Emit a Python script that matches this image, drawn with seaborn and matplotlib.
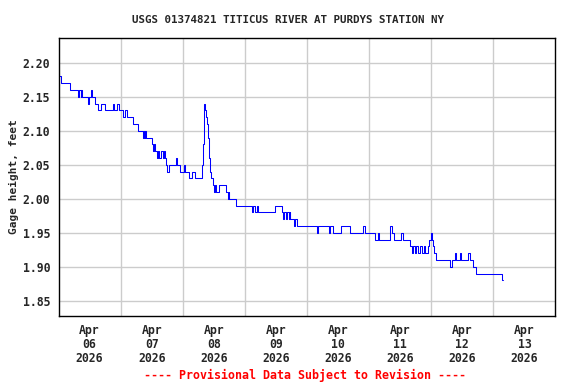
import numpy as np
import pandas as pd
import matplotlib
matplotlib.use("Agg")
import matplotlib.pyplot as plt
import seaborn as sns


# hours after 2026-04-06 00:00 where the gage reading changes, and the new reading
hours = [0, 1.0, 4.25, 7.5, 8.0, 8.5, 8.75, 9.25, 11.25, 11.75, 12.5, 13.0, 14.25,
         15.25, 16.5, 18.0, 21.0, 21.5, 22.75, 23.5, 25.0, 25.5, 26.5, 28.75,
         30.75, 32.5, 33.0, 33.25, 33.5, 33.75, 36.0, 36.5, 36.75, 37.25, 38.0,
         38.5, 39.0, 39.75, 40.25, 40.75, 41.25, 41.5, 42.0, 42.5, 45.25, 45.75,
         46.75, 48.5, 48.75, 50.25, 51.75, 52.75, 55.25, 55.75, 56.0, 56.25,
         56.75, 57.0, 57.25, 57.75, 58.0, 58.5, 59.0, 59.75, 60.25, 60.5, 60.75,
         62.0, 64.75, 65.5, 65.75, 66.0, 68.5, 74.75, 75.25, 76.0, 76.5, 77.25,
         83.5, 86.25, 86.75, 87.0, 87.75, 88.25, 89.0, 89.25, 89.5, 91.0, 91.25,
         92.0, 99.75, 100.25, 104.5, 105.0, 106.0, 109.0, 112.75, 117.75, 118.25,
         122.25, 123.5, 123.75, 128.0, 128.25, 129.0, 129.5, 132.25, 133.0,
         135.75, 136.5, 137.0, 137.75, 138.0, 138.75, 139.5, 140.25, 141.25,
         141.75, 142.75, 143.25, 143.75, 144.25, 144.75, 145.25, 145.75, 151.25,
         152.0, 153.25, 153.75, 155.0, 155.5, 158.25, 159.0, 160.25, 161.25,
         171.25, 171.75]
gage = [2.18, 2.17, 2.16, 2.15, 2.16, 2.15, 2.16, 2.15, 2.14, 2.15, 2.16, 2.15, 2.14,
        2.13, 2.14, 2.13, 2.14, 2.13, 2.14, 2.13, 2.12, 2.13, 2.12, 2.11,
        2.10, 2.09, 2.10, 2.09, 2.10, 2.09, 2.08, 2.07, 2.08, 2.07, 2.06,
        2.07, 2.06, 2.07, 2.06, 2.07, 2.06, 2.05, 2.04, 2.05, 2.06, 2.05,
        2.04, 2.05, 2.04, 2.03, 2.04, 2.03, 2.05, 2.06, 2.08, 2.14,
        2.13, 2.12, 2.11, 2.09, 2.06, 2.04, 2.03, 2.02, 2.01, 2.02, 2.01,
        2.02, 2.01, 2.00, 2.01, 2.00, 1.99, 1.98, 1.99, 1.98, 1.99, 1.98,
        1.99, 1.98, 1.97, 1.98, 1.97, 1.98, 1.97, 1.98, 1.97, 1.96, 1.97,
        1.96, 1.95, 1.96, 1.95, 1.96, 1.95, 1.96, 1.95, 1.96, 1.95,
        1.94, 1.95, 1.94, 1.95, 1.96, 1.95, 1.94, 1.95, 1.94,
        1.93, 1.92, 1.93, 1.92, 1.93, 1.92, 1.93, 1.92, 1.93,
        1.92, 1.93, 1.94, 1.95, 1.94, 1.93, 1.92, 1.91, 1.90,
        1.91, 1.92, 1.91, 1.92, 1.91, 1.92, 1.91, 1.90, 1.89,
        1.88, 1.88]

y_ticks = [1.85, 1.90, 1.95, 2.00, 2.05, 2.10, 2.15, 2.20]
title = "USGS 01374821 TITICUS RIVER AT PURDYS STATION NY"
note = "---- Provisional Data Subject to Revision ----"

start = pd.Timestamp("2026-04-06")
days = pd.date_range(start, periods=9, freq="D")
noons = days[:-1] + pd.Timedelta(hours=12)
day_labels = [d.strftime("%b\n%d\n%Y") for d in days[:-1]]

df = pd.DataFrame({"time": start + pd.to_timedelta(hours, unit="h"), "gage": gage})

sns.set_style("white")
plt.rcParams["font.family"] = ["DejaVu Sans Mono", "DejaVu Sans"]
plt.rcParams["font.weight"] = "bold"

fig = plt.figure(figsize=(5.76, 3.84), dpi=100)
ax = fig.add_axes([0.1016, 0.177, 0.8628, 0.724])

sns.lineplot(data=df, x="time", y="gage", drawstyle="steps-post", color="#0000ff",
             lw=0.75, estimator=None, ax=ax)

ax.set_xlim(days[0], days[-1])
ax.set_ylim(1.8275, 2.2363)
ax.set_yticks(y_ticks)
ax.set_yticklabels([f"{v:.2f}" for v in y_ticks], fontsize=8.3, fontweight="bold")
ax.set_xticks(noons)
ax.set_xticklabels(day_labels, fontsize=8.3, fontweight="bold", linespacing=1.1)
ax.set_xticks(days[1:-1], minor=True)
ax.tick_params(which="both", length=0, pad=6)

ax.grid(False)
ax.grid(which="minor", axis="x", color="#cccccc", lw=1)
ax.grid(which="major", axis="y", color="#cccccc", lw=1)
for s in ax.spines.values():
    s.set_color("black")
    s.set_linewidth(1.0)

ax.set_xlabel("")
ax.set_ylabel("Gage height, feet", fontsize=8, fontweight="bold", labelpad=3)
fig.text(0.5, 0.948, title, ha="center", va="center", fontsize=7.8, fontweight="bold")
fig.text(0.53, 0.023, note, ha="center", va="center", fontsize=8.4,
         fontweight="bold", color="red")

fig.savefig("out.png", dpi=100)
